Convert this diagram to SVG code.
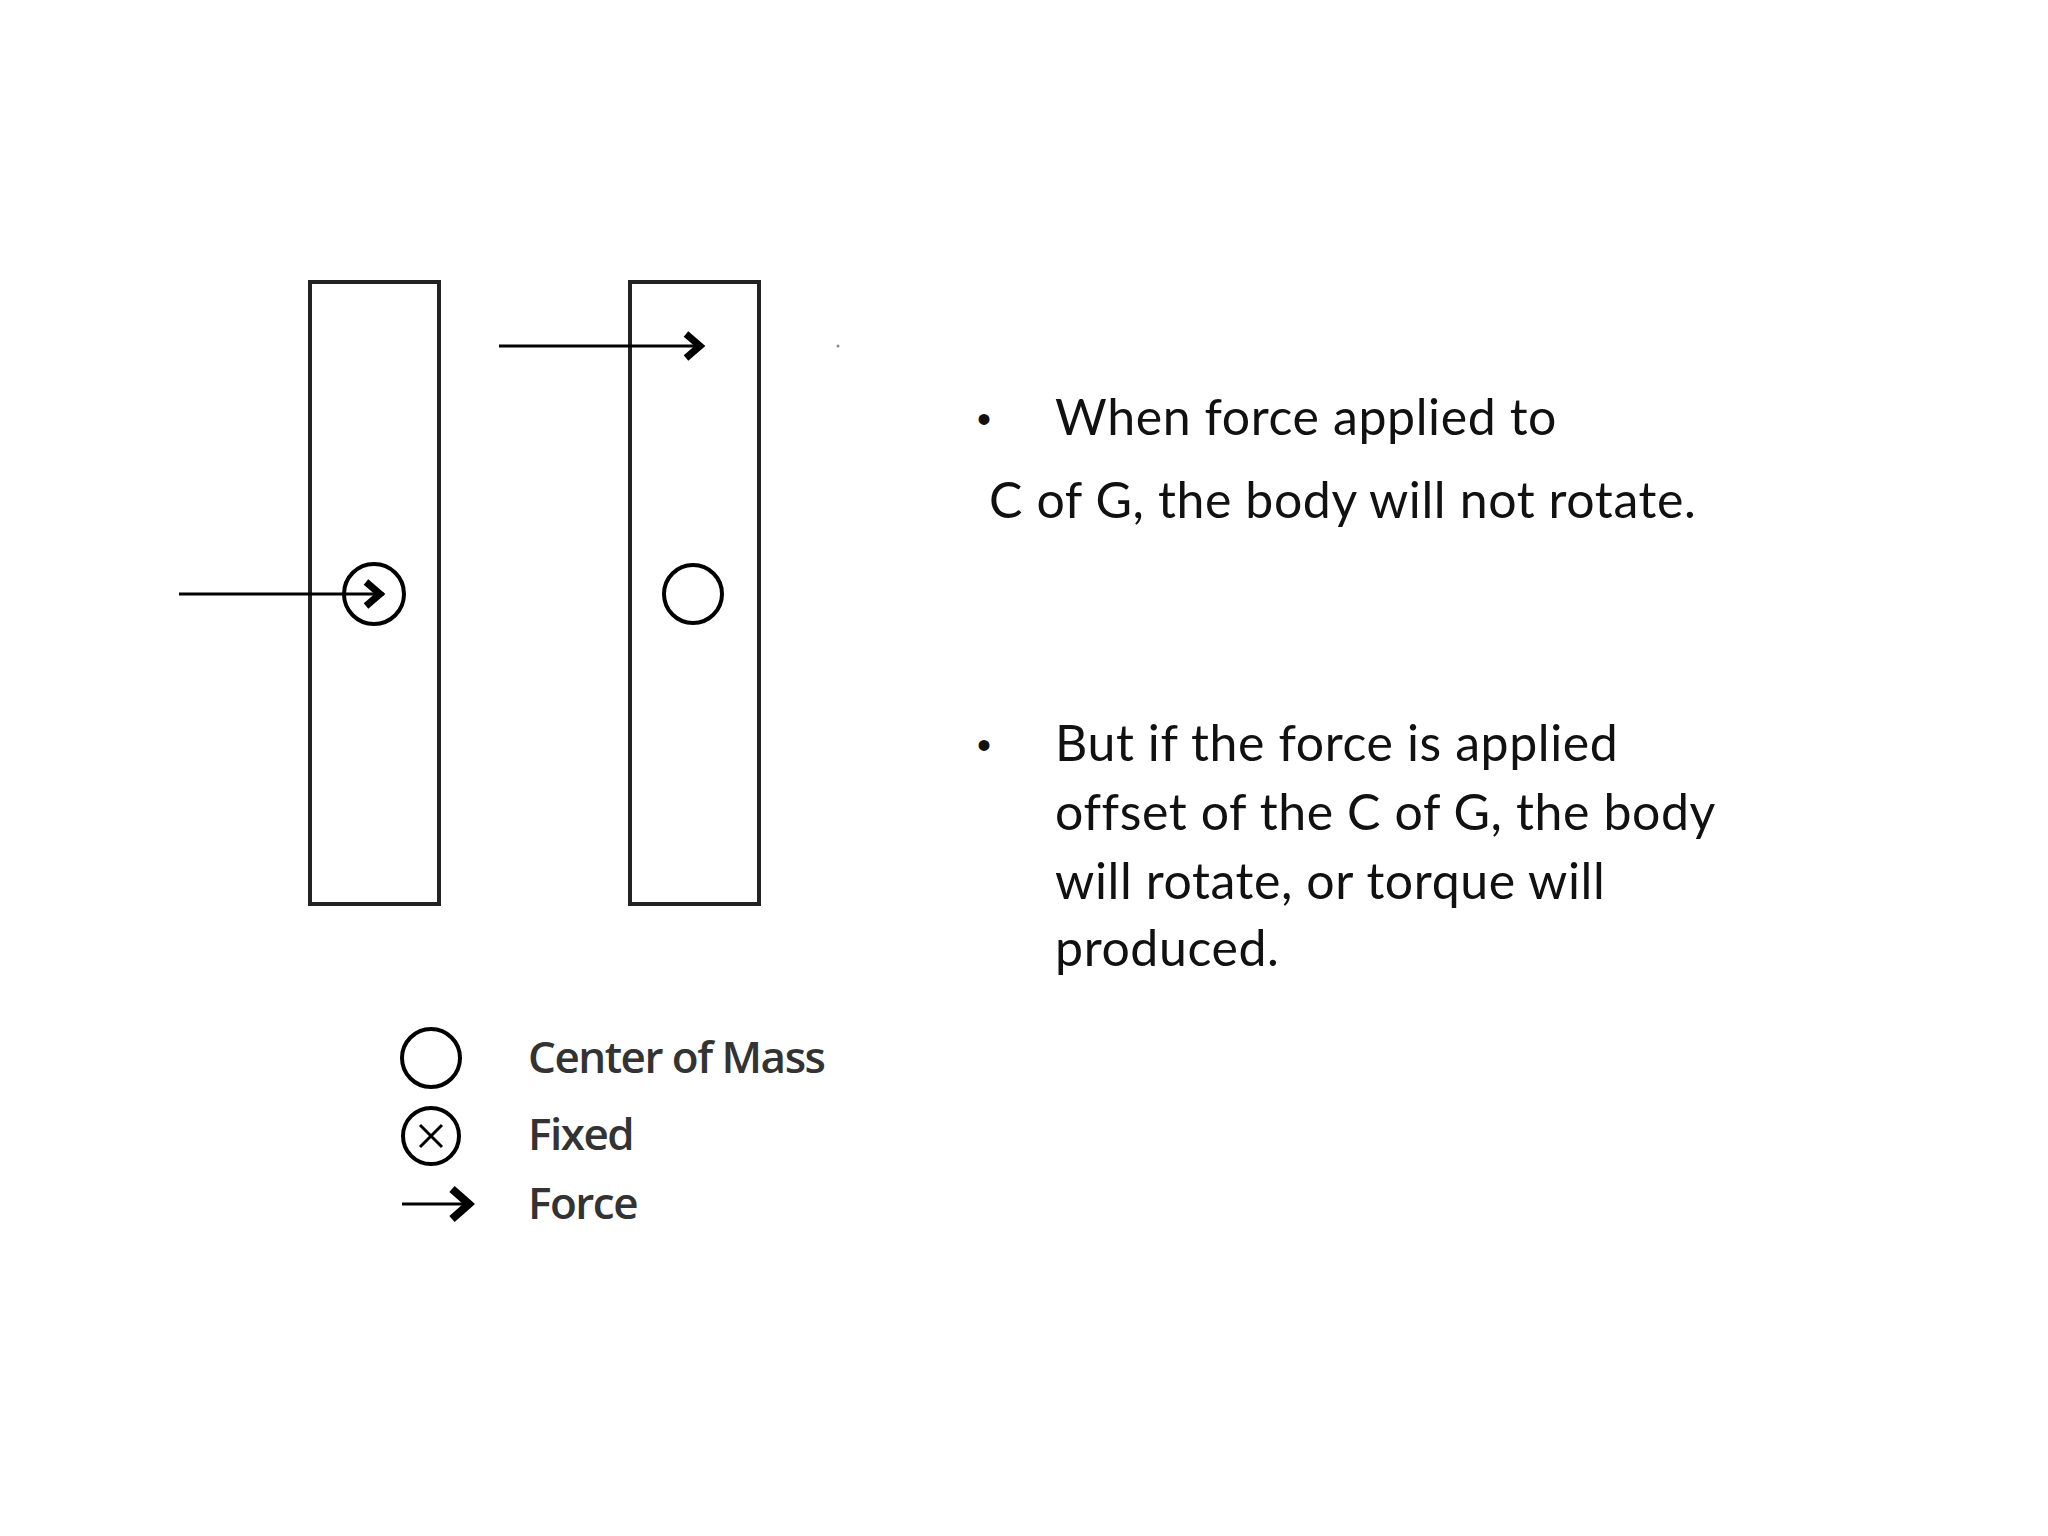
<svg xmlns="http://www.w3.org/2000/svg" width="2048" height="1536" viewBox="0 0 2048 1536">
<style>
.s{fill:none;stroke:#222;stroke-width:4}
.c{fill:none;stroke:#000;stroke-width:4}
.a{stroke:#000;stroke-width:3;fill:none}
.h{stroke:#000;stroke-width:7;fill:none;stroke-linejoin:miter}
.t{font-family:Lato,"Liberation Sans",sans-serif;font-size:50px;fill:#111;letter-spacing:0.6px}
.b{font-family:"Liberation Sans",sans-serif;font-size:40px;fill:#111}
.l{font-family:"Open Sans","Liberation Sans",sans-serif;font-size:44px;font-weight:600;fill:#333;letter-spacing:-1.5px}
</style>
<rect width="2048" height="1536" fill="#fff"/>
<g id="body1"><rect class="s" x="310" y="282" width="129" height="622"/><circle class="c" cx="374" cy="594" r="30"/></g>
<g id="body2"><rect class="s" x="630" y="282" width="129" height="622"/><circle class="c" cx="693" cy="594" r="29"/></g>
<g id="connectors">
<line class="a" x1="179" y1="594" x2="384" y2="594"/><path d="M366,582 L380,594 L366,606" class="h"/>
<line class="a" x1="499" y1="346" x2="698" y2="346"/><path d="M686,334 L700,346 L686,358" class="h"/>
</g>
<circle cx="838" cy="346" r="1.5" fill="#888"/>
<g id="legend">
<circle class="c" cx="431" cy="1058" r="29"/><text class="l" x="528" y="1073">Center of Mass</text>
<circle class="c" cx="431" cy="1136" r="28"/><path d="M420,1125 L442,1147 M442,1125 L420,1147" class="a"/><text class="l" x="528" y="1150">Fixed</text>
<line class="a" x1="402" y1="1204" x2="466" y2="1204"/><path d="M452,1189 L469,1204 L452,1219" class="h" style="stroke-width:8"/><text class="l" x="528" y="1219">Force</text>
</g>
<g id="text">
<text class="b" x="977" y="433">•</text><text class="t" x="1055" y="435">When force applied to</text>
<text class="t" x="989" y="518">C of G, the body will not rotate.</text>
<text class="b" x="977" y="759">•</text><text class="t" x="1055" y="761">But if the force is applied</text>
<text class="t" x="1055" y="830">offset of the C of G, the body</text>
<text class="t" x="1055" y="899">will rotate, or torque will</text>
<text class="t" x="1055" y="966">produced.</text>
</g>
</svg>
